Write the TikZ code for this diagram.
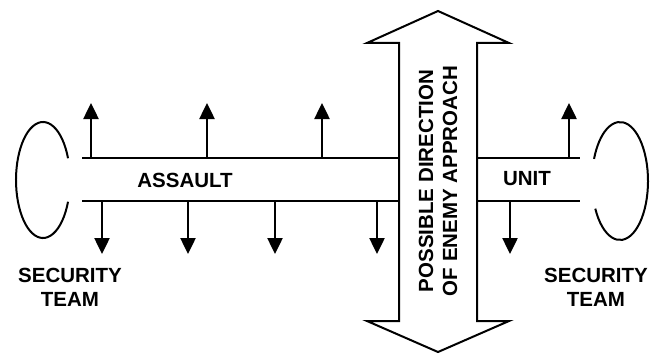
\documentclass[tikz,border=0pt]{standalone}
\usepackage{fontspec}
\setmainfont{Liberation Sans}
\usetikzlibrary{arrows.meta}
\tikzset{
  lbl/.style={font=\fontsize{20.5}{24}\selectfont\bfseries, align=center, inner sep=0pt},
  rail/.style={line width=2.5pt},
  upar/.style={line width=2.5pt, -{Triangle[length=16pt,width=15pt]}},
  oval/.style={line width=2pt},
  bigarrow/.style={line width=2pt, fill=white, line join=miter}
}
\begin{document}
\begin{tikzpicture}[x=1pt,y=1pt]
\useasboundingbox (0,0) rectangle (660,354);
% big double arrow
\draw[bigarrow] (438,343) -- (509,311) -- (477,311) -- (477,33) -- (509,33) -- (438,2)
  -- (367,33) -- (399,33) -- (399,311) -- (367,311) -- cycle;
\coordinate (shaftL1) at (399,196);
\coordinate (shaftL2) at (399,153);
\coordinate (shaftR1) at (477,196);
\coordinate (shaftR2) at (477,153);
\coordinate (lend1) at (82,196);
\coordinate (lend2) at (82,153);
\coordinate (rend1) at (580,196);
\coordinate (rend2) at (580,153);
% rails
\draw[rail] (lend1) -- (shaftL1);
\draw[rail] (lend2) -- (shaftL2);
\draw[rail] (shaftR1) -- (rend1);
\draw[rail] (shaftR2) -- (rend2);
% up arrows
\foreach \x/\n in {91/a,207/b,322/c,569/d}{
  \coordinate (u0\n) at (\x,196);
  \coordinate (u1\n) at (\x,251);
  \draw[upar] (u0\n) -- (u1\n);
}
% down arrows
\foreach \x/\n in {102/a,188/b,275/c,377/d,510/e}{
  \coordinate (d0\n) at (\x,153);
  \coordinate (d1\n) at (\x,100);
  \draw[upar] (d0\n) -- (d1\n);
}
% security ovals
\draw[oval] (43,174) ++(22:27 and 58) arc[start angle=22, end angle=338, x radius=27, y radius=58];
\draw[oval] (620,173) ++(-152:28 and 59) arc[start angle=-152, end angle=158, x radius=28, y radius=59];
% labels
\node[lbl] (assault) at (185,174) {ASSAULT};
\node[lbl] (unit) at (527,175) {UNIT};
\node[lbl] (secL) at (70,67) {SECURITY\\TEAM};
\node[lbl] (secR) at (596,67) {SECURITY\\TEAM};
\node[lbl, rotate=90] (dir) at (438,173) {POSSIBLE DIRECTION\\OF ENEMY APPROACH};
\end{tikzpicture}
\end{document}
